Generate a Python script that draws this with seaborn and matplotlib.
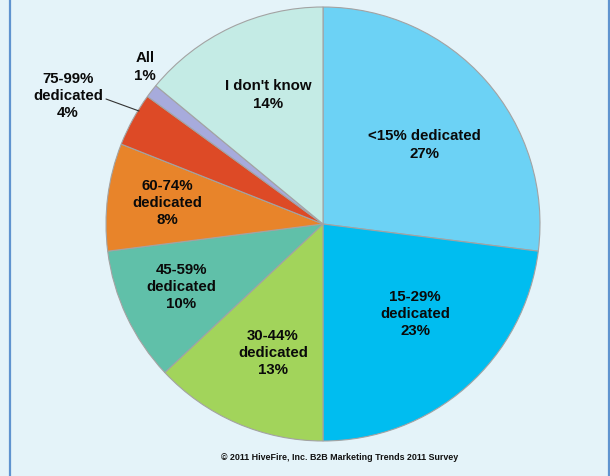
import matplotlib
matplotlib.use("Agg")
import matplotlib.pyplot as plt
from matplotlib.lines import Line2D
import seaborn as sns

# Share of marketing staff dedicated to content, clockwise from 12 o'clock
categories = ["<15% dedicated", "15-29%\ndedicated", "30-44%\ndedicated",
              "45-59%\ndedicated", "60-74%\ndedicated", "75-99%\ndedicated",
              "All", "I don't know"]
values = [27, 23, 13, 10, 8, 4, 1, 14]
colors = ["#6cd2f5", "#00bdf0", "#a2d45b", "#60c0a9",
          "#e8842a", "#dd4a26", "#a7abdc", "#c4ebe5"]
footer = "\u00a9 2011 HiveFire, Inc. B2B Marketing Trends 2011 Survey"

BG = "#e4f3f9"
sns.set_theme(style="white")
plt.rcParams["font.family"] = ["Liberation Sans", "DejaVu Sans"]

W, H = 610, 476
fig = plt.figure(figsize=(W / 100, H / 100), dpi=100, facecolor=BG)

# pie centre and radius in pixels
cx, cy, r = 323, 224, 217
ax = fig.add_axes([(cx - r) / W, (H - cy - r) / H, 2 * r / W, 2 * r / H])
ax.set_facecolor("none")

wedges, _ = ax.pie(values, colors=colors, startangle=90, counterclock=False,
                   radius=1.0,
                   wedgeprops=dict(edgecolor="#a3a3a3", linewidth=0.8))
ax.set_xlim(-1, 1)
ax.set_ylim(-1, 1)
ax.set_aspect("equal")
ax.axis("off")

# label anchor points (pixels), one per slice
label_px = [(424, 145), (415, 314), (273, 353), (181, 287),
            (167, 203), (68, 96), (145, 67), (268, 95)]

def to_data(px, py):
    return (px - cx) / r, (cy - py) / r

for cat, val, (px, py) in zip(categories, values, label_px):
    x, y = to_data(px, py)
    ax.text(x, y, f"{cat}\n{val}%", ha="center", va="center",
            fontsize=10.8, fontweight="bold", color="#0a0a0a",
            linespacing=1.3, clip_on=False)

# leader line for the small 75-99% slice
x0, y0 = to_data(106, 99)
x1, y1 = to_data(139, 111)
ax.plot([x0, x1], [y0, y1], color="#333333", linewidth=0.8, clip_on=False)

fig.text(340 / W, 1 - 458 / H, footer, ha="center", va="center",
         fontsize=6.4, fontweight="bold", color="#111111")

# blue frame edges on left and right
for xpix in (9.5, 608.5):
    fig.add_artist(Line2D([xpix / W, xpix / W], [0, 1], color="#5f93cf",
                          linewidth=1.6, transform=fig.transFigure))

fig.savefig("out.png", dpi=100, facecolor=BG)
